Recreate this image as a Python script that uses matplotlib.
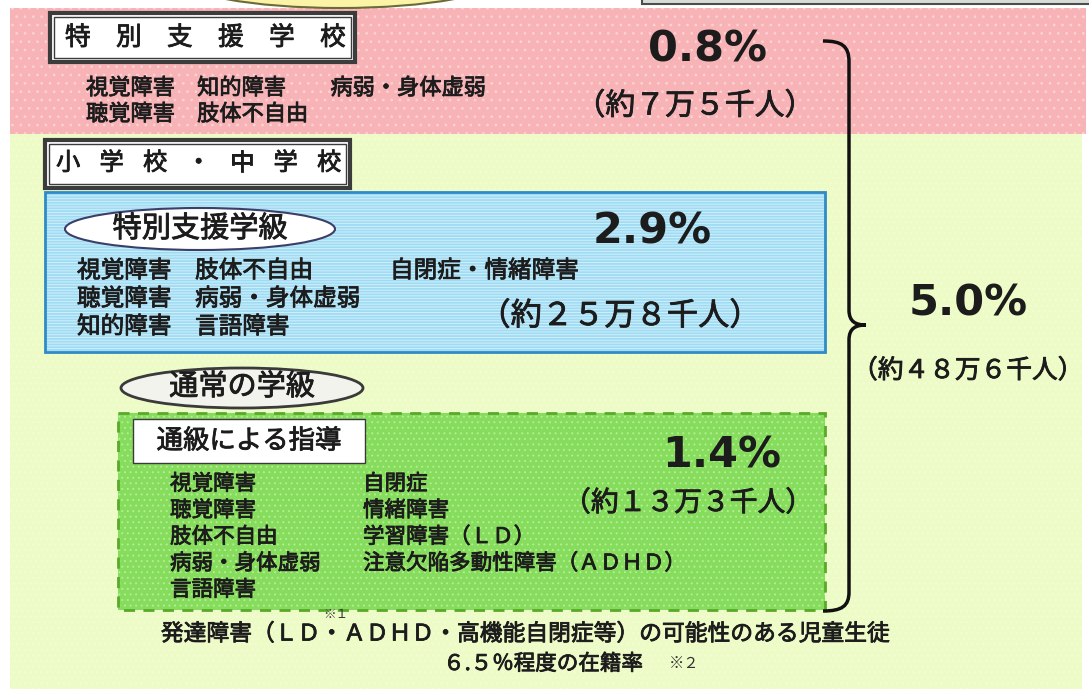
import matplotlib
matplotlib.use("Agg")
import matplotlib.pyplot as plt
import matplotlib.patheffects as pe
from matplotlib.patches import Rectangle, Ellipse, PathPatch
from matplotlib.path import Path

plt.rcParams['font.family'] = ['Noto Sans CJK JP', 'DejaVu Sans']
plt.rcParams['hatch.linewidth'] = 0.7

# texto del diagrama
school_title = "特別支援学校"
school_lines = ["視覚障害　知的障害　　病弱・身体虚弱", "聴覚障害　肢体不自由"]
regular_title = "小学校・中学校"
class_title = "特別支援学級"
class_left = ["視覚障害　肢体不自由", "聴覚障害　病弱・身体虚弱", "知的障害　言語障害"]
class_right = ["自閉症・情緒障害"]
normal_title = "通常の学級"
tsukyu_title = "通級による指導"
tsukyu_left = ["視覚障害", "聴覚障害", "肢体不自由", "病弱・身体虚弱", "言語障害"]
tsukyu_right = ["自閉症", "情緒障害", "学習障害（ＬＤ）", "注意欠陥多動性障害（ＡＤＨＤ）"]
shares = ["0.8%", "2.9%", "1.4%", "5.0%"]
counts = ["（約７万５千人）", "（約２５万８千人）", "（約１３万３千人）", "（約４８万６千人）"]
note_line1 = "発達障害（ＬＤ・ＡＤＨＤ・高機能自閉症等）の可能性のある児童生徒"
note_line2 = "６.５％程度の在籍率"

TXT = '#1c1c1c'
thick = [pe.withStroke(linewidth=0.6, foreground=TXT)]

fig = plt.figure(figsize=(10.89, 6.89), dpi=100)
ax = fig.add_axes([0, 0, 1, 1])
ax.set_xlim(0, 1089)
ax.set_ylim(689, 0)
ax.axis('off')


def box(x, y, w, h, fc, hatch=None, hc='white', ec=None, lw=0, ls='-', z=1):
    ax.add_patch(Rectangle((x, y), w, h, facecolor=fc, edgecolor=hc, hatch=hatch,
                           linewidth=0, zorder=z))
    if ec is not None:
        ax.add_patch(Rectangle((x, y), w, h, fill=False, edgecolor=ec,
                               linewidth=lw, linestyle=ls, zorder=z + 0.1))


def txt(x, y, s, size, ha='left', **kw):
    ax.text(x, y, s, fontsize=size, color=kw.pop('color', TXT), ha=ha, va='center',
            zorder=10, path_effects=thick, **kw)


def spaced(x0, y, text, pitch, size):
    for i, ch in enumerate(text):
        txt(x0 + i * pitch, y, ch, size)


def col(x, y0, lines, step, size):
    for i, s in enumerate(lines):
        txt(x, y0 + i * step, s, size)


# fondos
box(10, 8, 1076, 126, '#f8b3b6', hatch='..', hc='#fbd3d6')
box(10, 134, 1072, 560, '#edfbc6', hatch='...', hc='#f3fdd8')

# restos de la parte superior
ax.add_patch(Ellipse((340, -22), 320, 60, facecolor='#fbf3a6', edgecolor='#6b6b3a', lw=1.5, zorder=2))
ax.add_patch(Rectangle((642, -10), 460, 14, facecolor='#d8dcd8', edgecolor='#4a4f4a', lw=1.5, zorder=2))

# 特別支援学校
box(50, 13, 305, 49, 'white', ec='#3c3c3c', lw=3)
ax.add_patch(Rectangle((54, 17), 297, 41, fill=False, edgecolor='#3c3c3c', lw=1, zorder=3))
spaced(65, 38, school_title, 51, 18.5)
col(86, 88, school_lines, 26, 16)

# 小学校・中学校
box(45, 140, 305, 48, 'white', ec='#3c3c3c', lw=3)
ax.add_patch(Rectangle((49, 144), 297, 40, fill=False, edgecolor='#3c3c3c', lw=1, zorder=3))
spaced(56, 163, regular_title, 43.5, 17.5)

# 特別支援学級
box(45, 192, 780, 160, '#9fdcf4', hatch='------', hc='#d2effa', ec='#2e8bc8', lw=2, z=2)
ax.add_patch(Ellipse((200, 229), 270, 42, facecolor='white', edgecolor='#3a3f6a', lw=1.5, zorder=4))
txt(200, 229, class_title, 21, ha='center')
col(77, 271, class_left, 28, 17)
col(390, 271, class_right, 28, 17)

# 通常の学級
ax.add_patch(Ellipse((242, 388), 242, 40, facecolor='#f3f3ee', edgecolor='#3a3a3a', lw=2, zorder=4))
txt(242, 387, normal_title, 21, ha='center')

# 通級による指導
box(118, 413, 707, 197, '#86dc5c', hatch='...', hc='#b4ee92', ec='#5aa92a', lw=2, ls=(0, (4, 3)), z=2)
box(133, 419, 232, 44, 'white', ec='#3a3a3a', lw=1, z=4)
txt(249, 441, tsukyu_title, 19, ha='center')
col(170, 484, tsukyu_left, 26.5, 15.5)
col(363, 484, tsukyu_right, 26.5, 15.5)

# porcentajes
pct_pos = [(707, 50), (652, 231), (722, 455), (968, 303)]
cnt_pos = [(695, 106), (620, 316), (688, 503), (968, 371)]
cnt_size = [21.5, 22.5, 20, 18.5]
for s, (x, y) in zip(shares, pct_pos):
    ax.text(x, y, s, fontsize=31, fontweight='bold', family='DejaVu Sans', color=TXT,
            ha='center', va='center', zorder=10)
for s, (x, y), fs in zip(counts, cnt_pos, cnt_size):
    txt(x, y, s, fs, ha='center')

# llave
verts = [(823, 41), (842, 41), (849, 46), (849, 62),
         (849, 310),
         (849, 322), (856, 325), (866, 325),
         (856, 325), (849, 328), (849, 340),
         (849, 592),
         (849, 606), (842, 611), (823, 611)]
codes = [Path.MOVETO, Path.CURVE4, Path.CURVE4, Path.CURVE4,
         Path.LINETO,
         Path.CURVE4, Path.CURVE4, Path.CURVE4,
         Path.CURVE4, Path.CURVE4, Path.CURVE4,
         Path.LINETO,
         Path.CURVE4, Path.CURVE4, Path.CURVE4]
ax.add_patch(PathPatch(Path(verts, codes), fill=False, edgecolor='#111111', lw=2.5, zorder=8))

# notas
ax.text(336, 614, "※１", fontsize=9, color='#333333', ha='center', va='center', zorder=10)
txt(525, 634, note_line1, 16.4, ha='center')
txt(543, 664, note_line2, 15.5, ha='center')
ax.text(684, 663, "※２", fontsize=11, color='#333333', ha='center', va='center', zorder=10)

fig.savefig("out.png", dpi=100)
